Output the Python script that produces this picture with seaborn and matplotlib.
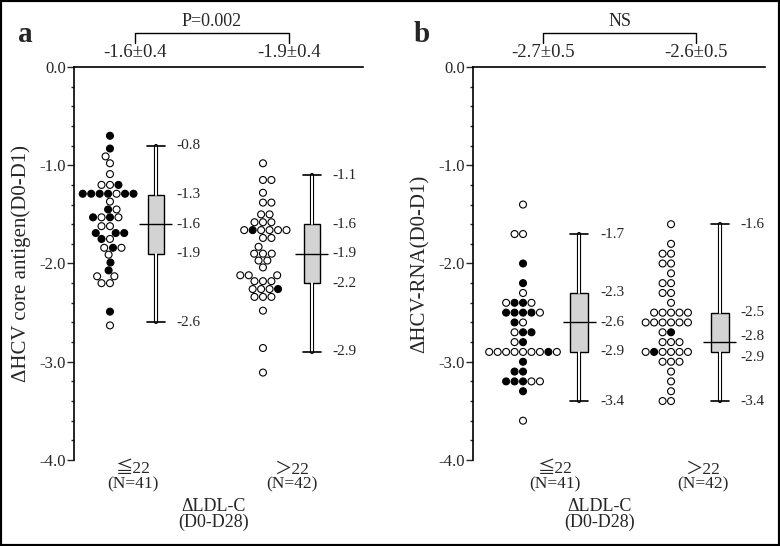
import numpy as np
import pandas as pd
import matplotlib
matplotlib.use("Agg")
import matplotlib.pyplot as plt
from matplotlib.ticker import MultipleLocator
from matplotlib.transforms import blended_transform_factory
from matplotlib.patches import Rectangle
import seaborn as sns

groups = ["≦22", "＞22"]
group_labels = ["≦22\n(N=41)", "＞22\n(N=42)"]

# panel a: delta HCV core antigen (1 = filled circle, 0 = open circle)
core_le22 = [-0.70, -0.83, -0.91, -0.98, -1.09,
             -1.20, -1.20, -1.20,
             -1.29, -1.29, -1.29, -1.29, -1.29, -1.29, -1.29,
             -1.37, -1.45, -1.45,
             -1.53, -1.53, -1.53, -1.53,
             -1.62, -1.62, -1.69, -1.69, -1.69, -1.75, -1.75,
             -1.84, -1.84, -1.84, -1.91, -1.99, -2.07,
             -2.13, -2.13, -2.20, -2.20, -2.49, -2.63]
core_le22_fill = [1, 1, 0, 0, 0,
                  1, 0, 0,
                  1, 1, 1, 0, 1, 1, 1,
                  0, 1, 0,
                  1, 1, 0, 0,
                  0, 0, 1, 1, 1, 1, 0,
                  1, 0, 0, 0, 1, 1,
                  0, 0, 0, 0, 1, 0]
core_gt22 = [-0.98, -1.15, -1.15, -1.28, -1.38, -1.38, -1.50, -1.50,
             -1.58, -1.58, -1.58,
             -1.66, -1.66, -1.66, -1.66, -1.66, -1.66,
             -1.74, -1.74, -1.83, -1.90, -1.90, -1.90, -1.97, -1.97, -2.04,
             -2.12, -2.12, -2.12, -2.18, -2.18, -2.18,
             -2.26, -2.26, -2.26, -2.26, -2.34, -2.34, -2.34,
             -2.48, -2.86, -3.11]
core_gt22_fill = [0, 0, 0, 0, 0, 0, 0, 0,
                  0, 0, 0,
                  1, 0, 0, 0, 0, 0,
                  0, 0, 0, 0, 0, 0, 0, 0, 0,
                  0, 0, 0, 0, 0, 0,
                  1, 0, 0, 0, 0, 0, 0,
                  0, 0, 0]

# panel b: delta HCV-RNA
rna_le22 = [-1.4, -1.7, -1.7, -2.0, -2.2, -2.3,
            -2.4, -2.4, -2.4, -2.4,
            -2.5, -2.5, -2.5, -2.5, -2.5,
            -2.6, -2.6, -2.7, -2.7, -2.7, -2.8, -2.8,
            -2.9, -2.9, -2.9, -2.9, -2.9, -2.9, -2.9, -2.9, -2.9,
            -3.0, -3.1, -3.1,
            -3.2, -3.2, -3.2, -3.2, -3.2, -3.3, -3.6]
rna_le22_fill = [0, 0, 0, 1, 1, 0,
                 1, 1, 0, 0,
                 1, 1, 1, 1, 0,
                 1, 0, 1, 1, 0, 1, 0,
                 1, 0, 0, 0, 0, 0, 0, 0, 0,
                 1, 1, 1,
                 1, 1, 1, 0, 0, 1, 0]
rna_gt22 = [-1.6, -1.8, -1.9, -1.9, -2.0, -2.0, -2.1, -2.2, -2.2, -2.3, -2.3, -2.4,
            -2.5, -2.5, -2.5, -2.5, -2.5,
            -2.6, -2.6, -2.6, -2.6, -2.6, -2.6,
            -2.7, -2.7, -2.8, -2.8, -2.8,
            -2.9, -2.9, -2.9, -2.9, -2.9, -2.9,
            -3.0, -3.0, -3.0, -3.1, -3.2, -3.3, -3.4, -3.4]
rna_gt22_fill = [0, 0, 0, 0, 0, 0, 0, 0, 0, 0, 0, 0,
                 0, 0, 0, 0, 0,
                 0, 0, 0, 0, 0, 0,
                 1, 0, 0, 0, 0,
                 1, 0, 0, 0, 0, 0,
                 0, 0, 0, 0, 0, 0, 0, 0]

# box stats: min, q1, median, q3, max
core_box = [[-2.6, -1.9, -1.6, -1.3, -0.8], [-2.9, -2.2, -1.9, -1.6, -1.1]]
rna_box = [[-3.4, -2.9, -2.6, -2.3, -1.7], [-3.4, -2.9, -2.8, -2.5, -1.6]]
core_mean = ["-1.6±0.4", "-1.9±0.4"]
rna_mean = ["-2.7±0.5", "-2.6±0.5"]

rows = []
for panel, vals, fills in [("a", core_le22, core_le22_fill), ("a", core_gt22, core_gt22_fill),
                           ("b", rna_le22, rna_le22_fill), ("b", rna_gt22, rna_gt22_fill)]:
    grp = groups[0] if vals in (core_le22, rna_le22) else groups[1]
    for v, f in zip(vals, fills):
        rows.append((panel, grp, v, "filled" if f else "open"))
df = pd.DataFrame(rows, columns=["panel", "group", "value", "fill"])

sns.set_style("ticks")
plt.rcParams["font.family"] = ["Liberation Serif", "Noto Sans CJK JP", "DejaVu Serif"]
plt.rcParams["axes.unicode_minus"] = False

panels = [
    dict(letter="a", ylabel="ΔHCV core antigen(D0-D1)", box=core_box, mean=core_mean, p="P=0.002",
         rect=[0.0949, 0.1575, 0.3705, 0.7198], xlim=(-0.235, 1.654), boxpos=[0.30, 1.32],
         bw=0.105, mw=0.216, cw=0.118, meanx=[0.164, 1.17], tickx=[0.151, 1.19], xlx=0.484,
         letter_xy=(0.033, 0.936)),
    dict(letter="b", ylabel="ΔHCV-RNA(D0-D1)", box=rna_box, mean=rna_mean, p="NS",
         rect=[0.6064, 0.1575, 0.3744, 0.7198], xlim=(-0.338, 1.635), boxpos=[0.38, 1.33],
         bw=0.122, mw=0.223, cw=0.122, meanx=[0.135, 1.169], tickx=[0.216, 1.216], xlx=0.435,
         letter_xy=(0.541, 0.936)),
]

fig = plt.figure(figsize=(7.8, 5.46), dpi=100)

for p in panels:
    ax = fig.add_axes(p["rect"])
    d = df[df.panel == p["letter"]]
    sns.swarmplot(data=d, x="group", y="value", hue="fill", order=groups,
                  hue_order=["filled", "open"], palette={"filled": "black", "open": "white"},
                  edgecolor="black", linewidth=0.8, size=5, legend=False, ax=ax)

    stats = [dict(whislo=b[0], q1=b[1], med=b[2], q3=b[3], whishi=b[4], fliers=[]) for b in p["box"]]
    ax.bxp(stats, positions=p["boxpos"], widths=p["bw"], showbox=False, showcaps=False,
           manage_ticks=False, whiskerprops=dict(color="black", lw=3.0), medianprops=dict(lw=0))
    ax.bxp(stats, positions=p["boxpos"], widths=p["bw"], capwidths=p["cw"], patch_artist=True,
           manage_ticks=False,
           boxprops=dict(facecolor="#d3d3d3", edgecolor="black", lw=1),
           whiskerprops=dict(color="white", lw=1.4),
           capprops=dict(color="black", lw=1.2), medianprops=dict(lw=0))
    meds = np.array([b[2] for b in p["box"]])
    bp = np.array(p["boxpos"])
    ax.hlines(meds, bp - p["mw"] / 2, bp + p["mw"] / 2, color="black", lw=1, zorder=3)

    for x, b in zip(p["boxpos"], p["box"]):
        for i, v in enumerate(b):
            # spread labels that sit too close together
            dy = 0
            if i > 0 and abs(v - b[i - 1]) < 0.15:
                dy = 4
            if i < len(b) - 1 and abs(b[i + 1] - v) < 0.15:
                dy = -4
            ax.annotate(f"{v:.1f}", xy=(x, v), xytext=(15, dy), textcoords="offset points",
                        ha="left", va="center", fontsize=11)

    ax.set_xlim(*p["xlim"])
    ax.set_ylim(-4, 0)
    ax.set_yticks([0, -1, -2, -3, -4], ["0.0", "-1.0", "-2.0", "-3.0", "-4.0"])
    ax.yaxis.set_minor_locator(MultipleLocator(0.2))
    ax.tick_params(axis="y", which="major", length=5, width=1, pad=1, labelsize=12, direction="out")
    ax.tick_params(axis="y", which="minor", length=2.5, width=1, direction="out", left=True)
    ax.set_xticks(p["tickx"], group_labels)
    ax.tick_params(axis="x", length=0, pad=1, labelsize=12.5)
    for lbl in ax.get_xticklabels():
        lbl.set_linespacing(0.9)
    ax.set_xlabel("")
    ax.set_ylabel(p["ylabel"], fontsize=15)
    ax.yaxis.set_label_coords(-0.148, 0.5)
    for s in ["bottom", "right"]:
        ax.spines[s].set_visible(False)
    for s in ["top", "left"]:
        ax.spines[s].set_linewidth(1.2)
        ax.spines[s].set_color("black")

    ax.text(p["xlx"], -0.139, "ΔLDL-C\n(D0-D28)", transform=ax.transAxes,
            ha="center", va="center", fontsize=13, linespacing=0.9)

    trans = blended_transform_factory(ax.transData, ax.transAxes)
    for x, t in zip(p["meanx"], p["mean"]):
        ax.text(x, 1.038, t, transform=trans, ha="center", va="center", fontsize=13.5)
    x0, x1 = p["meanx"]
    ax.plot([x0, x0, x1, x1], [1.061, 1.0865, 1.0865, 1.061], transform=trans,
            color="black", lw=1, clip_on=False)
    ax.text((x0 + x1) / 2, 1.117, p["p"], transform=trans, ha="center", va="center", fontsize=13)

    fig.text(*p["letter_xy"], p["letter"], fontsize=21, weight="bold", ha="center", va="center")

fig.patches.append(Rectangle((0, 0), 1, 1, transform=fig.transFigure, fill=False,
                             edgecolor="black", lw=3))
fig.savefig("out.png", dpi=100)
